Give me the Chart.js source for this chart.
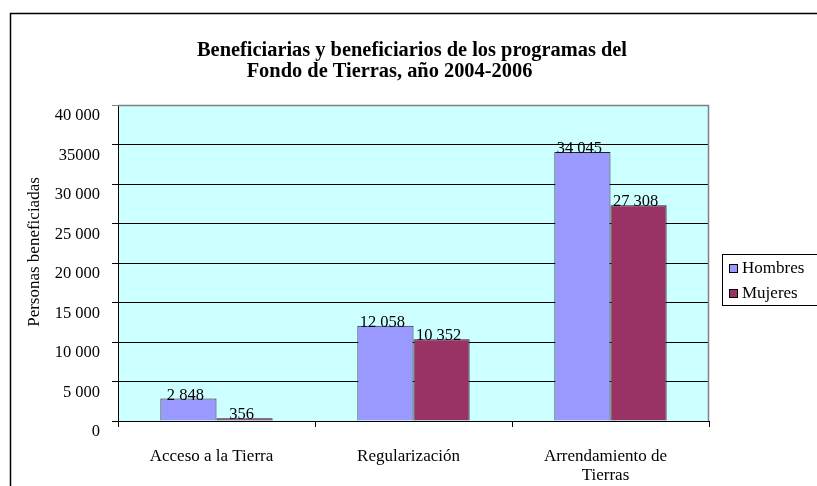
<!DOCTYPE html>
<html>
<head>
<meta charset="utf-8">
<script src="https://cdn.jsdelivr.net/npm/chart.js@4/dist/chart.umd.min.js"></script>
<style>
  html, body { margin: 0; padding: 0; background: #fff; }
  #wrap { width: 817px; height: 486px; position: relative; }
</style>
</head>
<body>
<div id="wrap"><canvas id="chart"></canvas></div>
<script>
// Data
const categories = ['Acceso a la Tierra', 'Regularización', ['Arrendamiento de', 'Tierras']];
const hombres = [2848, 12058, 34045];
const mujeres = [356, 10352, 27308];
const yTickValues = [0, 5000, 10000, 15000, 20000, 25000, 30000, 35000, 40000];
const yTickLabels = ['0', '5 000', '10 000', '15 000', '20 000', '25 000', '30 000', '35000', '40 000'];
const titleLines = ['Beneficiarias y beneficiarios de los programas del', 'Fondo de Tierras, año 2004-2006'];
const yAxisTitle = 'Personas beneficiadas';

const SERIF = "'Liberation Serif', 'Times New Roman', serif";

function fmt(v) {
  return String(v).replace(/\B(?=(\d{3})+(?!\d))/g, ' ');
}

// cyan plot area, outer frame, title and y-axis title
const backdrop = {
  id: 'backdrop',
  beforeDraw(chart) {
    const { ctx, chartArea: a } = chart;
    ctx.save();
    ctx.strokeStyle = '#000';
    ctx.lineWidth = 1.5;
    ctx.strokeRect(10.5, 13.5, 900, 600);
    ctx.fillStyle = '#CCFFFF';
    ctx.fillRect(a.left, a.top, a.right - a.left, a.bottom - a.top);

    ctx.fillStyle = '#000';
    ctx.textAlign = 'center';
    ctx.textBaseline = 'alphabetic';
    ctx.font = 'bold 20.4px ' + SERIF;
    ctx.fillText(titleLines[0], 412, 55.5);
    ctx.fillText(titleLines[1], 389.5, 77.3);

    ctx.translate(35, 252);
    ctx.rotate(-Math.PI / 2);
    ctx.font = '17px ' + SERIF;
    ctx.textBaseline = 'middle';
    ctx.fillText(yAxisTitle, 0, 0);
    ctx.restore();
  },
  afterDraw(chart) {
    const { ctx, chartArea: a } = chart;
    ctx.save();
    ctx.strokeStyle = '#808080';
    ctx.lineWidth = 1.5;
    ctx.beginPath();
    ctx.moveTo(a.left, a.top + 0.5);
    ctx.lineTo(a.right - 0.5, a.top + 0.5);
    ctx.lineTo(a.right - 0.5, a.bottom);
    ctx.stroke();
    ctx.restore();
  },
};

// value labels sitting on top of each bar
const valueLabels = {
  id: 'valueLabels',
  afterDatasetsDraw(chart) {
    const { ctx } = chart;
    ctx.save();
    ctx.font = '16.5px ' + SERIF;
    ctx.fillStyle = '#000';
    ctx.textAlign = 'center';
    ctx.textBaseline = 'alphabetic';
    chart.data.datasets.forEach((ds, i) => {
      chart.getDatasetMeta(i).data.forEach((bar, j) => {
        ctx.fillText(fmt(ds.data[j]), bar.x - 3, bar.y + 1);
      });
    });
    ctx.restore();
  },
};

// boxed legend on the right, partly cut by the canvas edge
const boxLegend = {
  id: 'boxLegend',
  afterDraw(chart) {
    const { ctx } = chart;
    const x = 722, y = 254;
    ctx.save();
    ctx.fillStyle = '#fff';
    ctx.fillRect(x, y, 120, 51);
    ctx.strokeStyle = '#000';
    ctx.lineWidth = 1;
    ctx.strokeRect(x + 0.5, y + 0.5, 120, 51);
    ctx.font = '17px ' + SERIF;
    ctx.textBaseline = 'alphabetic';
    chart.data.datasets.forEach((ds, i) => {
      const top = y + 10 + i * 25;
      ctx.fillStyle = ds.backgroundColor;
      ctx.fillRect(x + 7, top, 8, 8);
      ctx.strokeStyle = '#000';
      ctx.strokeRect(x + 7.5, top + 0.5, 8, 8);
      ctx.fillStyle = '#000';
      ctx.fillText(ds.label, x + 20, top + 9);
    });
    ctx.restore();
  },
};

new Chart(document.getElementById('chart'), {
  type: 'bar',
  data: {
    labels: categories,
    datasets: [
      { label: 'Hombres', data: hombres, backgroundColor: '#9999FF', borderColor: '#222', borderWidth: 1 },
      { label: 'Mujeres', data: mujeres, backgroundColor: '#993366', borderColor: '#222', borderWidth: 1 },
    ],
  },
  options: {
    responsive: true, maintainAspectRatio: false,
    animation: false,
    categoryPercentage: 0.57,
    barPercentage: 1,
    layout: { padding: { left: 0, right: 108, top: 105, bottom: 0 } },
    plugins: {
      legend: { display: false },
      tooltip: { enabled: false },
    },
    scales: {
      x: {
        afterFit: (s) => { s.height = 65; s.paddingLeft = 0; s.paddingRight = 0; },
        grid: { offset: true, drawOnChartArea: false, color: '#000', tickLength: 6 },
        border: { color: '#000', width: 1 },
        ticks: {
          color: '#000', padding: 20, labelOffset: -5,
          font: { family: SERIF, size: 17, lineHeight: 1.12 },
        },
      },
      y: {
        min: 0, max: 40000,
        afterFit: (s) => { s.width = 118; s.paddingTop = 0; s.paddingBottom = 0; },
        afterBuildTicks: (s) => { s.ticks = yTickValues.map((v) => ({ value: v })); },
        grid: { color: (c) => (c.tick && c.tick.value === 40000 ? '#808080' : '#000'), tickLength: 6 },
        border: { color: '#000', width: 1 },
        ticks: {
          color: '#000', padding: 12, labelOffset: 11,
          font: { family: SERIF, size: 16.5 },
          callback: (v) => yTickLabels[yTickValues.indexOf(v)],
        },
      },
    },
  },
  plugins: [backdrop, valueLabels, boxLegend],
});
</script>
</body>
</html>
